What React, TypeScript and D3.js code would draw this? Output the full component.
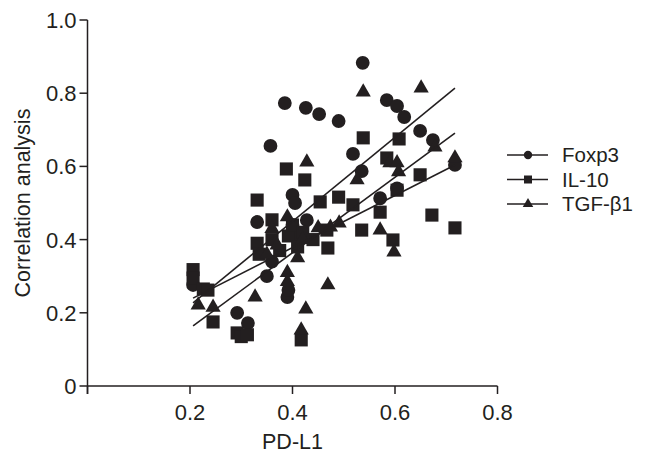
import React from 'react'
import * as d3 from 'd3'

// values: [PD-L1, correlation]
const foxp3: [number, number][] = [
  [0.206, 0.276], [0.292, 0.2], [0.313, 0.172], [0.331, 0.448], [0.35, 0.3], [0.36, 0.34],
  [0.357, 0.656], [0.385, 0.773], [0.39, 0.243], [0.392, 0.262], [0.4, 0.522], [0.405, 0.5],
  [0.4, 0.44], [0.41, 0.41], [0.428, 0.453], [0.426, 0.76], [0.452, 0.743], [0.49, 0.724],
  [0.518, 0.634], [0.537, 0.883], [0.535, 0.587], [0.571, 0.513], [0.584, 0.781], [0.604, 0.765],
  [0.618, 0.735], [0.604, 0.54], [0.649, 0.697], [0.674, 0.672], [0.717, 0.604],
]
const il10: [number, number][] = [
  [0.206, 0.318], [0.206, 0.295], [0.226, 0.265], [0.235, 0.262], [0.245, 0.175], [0.292, 0.145],
  [0.3, 0.135], [0.312, 0.14], [0.331, 0.508], [0.331, 0.39], [0.335, 0.36], [0.36, 0.454],
  [0.36, 0.4], [0.375, 0.37], [0.388, 0.593], [0.392, 0.41], [0.4, 0.44], [0.41, 0.38],
  [0.417, 0.126], [0.42, 0.42], [0.424, 0.563], [0.44, 0.4], [0.454, 0.503], [0.469, 0.377],
  [0.467, 0.426], [0.49, 0.516], [0.518, 0.495], [0.535, 0.426], [0.538, 0.678], [0.571, 0.475],
  [0.584, 0.623], [0.596, 0.399], [0.604, 0.535], [0.608, 0.675], [0.649, 0.577], [0.672, 0.467],
  [0.717, 0.432],
]
const tgfb1: [number, number][] = [
  [0.216, 0.221], [0.245, 0.215], [0.327, 0.243], [0.35, 0.36], [0.36, 0.43], [0.37, 0.385],
  [0.39, 0.462], [0.39, 0.31], [0.39, 0.285], [0.41, 0.35], [0.42, 0.4], [0.426, 0.21],
  [0.417, 0.153], [0.428, 0.612], [0.45, 0.432], [0.469, 0.276], [0.474, 0.434], [0.491, 0.445],
  [0.526, 0.563], [0.538, 0.803], [0.571, 0.426], [0.59, 0.61], [0.598, 0.366], [0.604, 0.61],
  [0.607, 0.585], [0.651, 0.814], [0.678, 0.653], [0.717, 0.623],
]

// fitted lines, end points
const fitX = [0.206, 0.717]
const fitFoxp3 = [0.227, 0.814]
const fitTgfb1 = [0.164, 0.691]
const fitIl10 = [0.24, 0.604]

const xTicks = [0, 0.2, 0.4, 0.6, 0.8]
const yTicks = [0, 0.2, 0.4, 0.6, 0.8, 1.0]
const seriesNames = ['Foxp3', 'IL-10', 'TGF-\u03b21']

const W = 646, H = 459
const ink = '#231f20'
const font = 'Liberation Sans, Arial, sans-serif'

export default function App() {
  const x = d3.scaleLinear().domain([0, 0.8]).range([87.5, 497.5])
  const y = d3.scaleLinear().domain([0, 1]).range([386, 20])

  const circle = d3.symbol(d3.symbolCircle, 150)()!
  const square = d3.symbol(d3.symbolSquare, 172)()!
  const triangle = d3.symbol(d3.symbolTriangle, 100)()!
  const shapes = [circle, square, triangle]
  const legendShapes = [
    d3.symbol(d3.symbolCircle, 55)()!,
    d3.symbol(d3.symbolSquare, 64)()!,
    d3.symbol(d3.symbolTriangle, 48)()!,
  ]
  const series = [foxp3, il10, tgfb1]
  const fits = [fitFoxp3, fitIl10, fitTgfb1]
  const line = d3.line<[number, number]>().x(d => x(d[0])).y(d => y(d[1]))

  return (
    <svg width={W} height={H} style={{ position: 'absolute', left: 0, top: 0, background: '#fff' }}
      fontFamily={font}>
      {/* axes */}
      <line x1={x(0)} x2={x(0)} y1={y(1)} y2={y(0) + 8} stroke={ink} strokeWidth={1.5} />
      <line x1={x(0)} x2={x(0.8)} y1={y(0)} y2={y(0)} stroke={ink} strokeWidth={1.5} />
      {yTicks.map(t => (
        <g key={'y' + t}>
          <line x1={x(0) - 8} x2={x(0)} y1={y(t)} y2={y(t)} stroke={ink} strokeWidth={1.5} />
          <text x={x(0) - 11} y={y(t)} dy="0.36em" textAnchor="end" fontSize={22} fill={ink}>
            {t === 0 ? '0' : t.toFixed(1)}
          </text>
        </g>
      ))}
      {xTicks.map(t => (
        <g key={'x' + t}>
          <line x1={x(t)} x2={x(t)} y1={y(0)} y2={y(0) + 8} stroke={ink} strokeWidth={1.5} />
          {t > 0 && (
            <text x={x(t)} y={y(0) + 26} dy="0.36em" textAnchor="middle" fontSize={22} fill={ink}>
              {t.toFixed(1)}
            </text>
          )}
        </g>
      ))}
      <text x={x(0.4)} y={441} dy="0.36em" textAnchor="middle" fontSize={21.5} fill={ink}>PD-L1</text>
      <text transform={`translate(22,${y(0.5)}) rotate(-90)`} dy="0.36em" textAnchor="middle"
        fontSize={21.5} fill={ink}>Correlation analysis</text>

      {/* points */}
      {series.map((s, i) => (
        <g key={'s' + i} fill={ink}>
          {s.map((d, j) => (
            <path key={j} d={shapes[i]} transform={`translate(${x(d[0])},${y(d[1])})`} />
          ))}
        </g>
      ))}

      {/* fit lines */}
      {fits.map((f, i) => (
        <path key={'f' + i} d={line([[fitX[0], f[0]], [fitX[1], f[1]]])!} stroke={ink}
          strokeWidth={1.6} fill="none" />
      ))}

      {/* legend */}
      {seriesNames.map((n, i) => {
        const ly = 155 + i * 24.5
        return (
          <g key={n}>
            <line x1={507} x2={548} y1={ly} y2={ly} stroke={ink} strokeWidth={1.5} />
            <path d={legendShapes[i]} transform={`translate(528,${ly})`} fill={ink} />
            <text x={562} y={ly} dy="0.36em" fontSize={20.5} fill={ink}>{n}</text>
          </g>
        )
      })}
    </svg>
  )
}
